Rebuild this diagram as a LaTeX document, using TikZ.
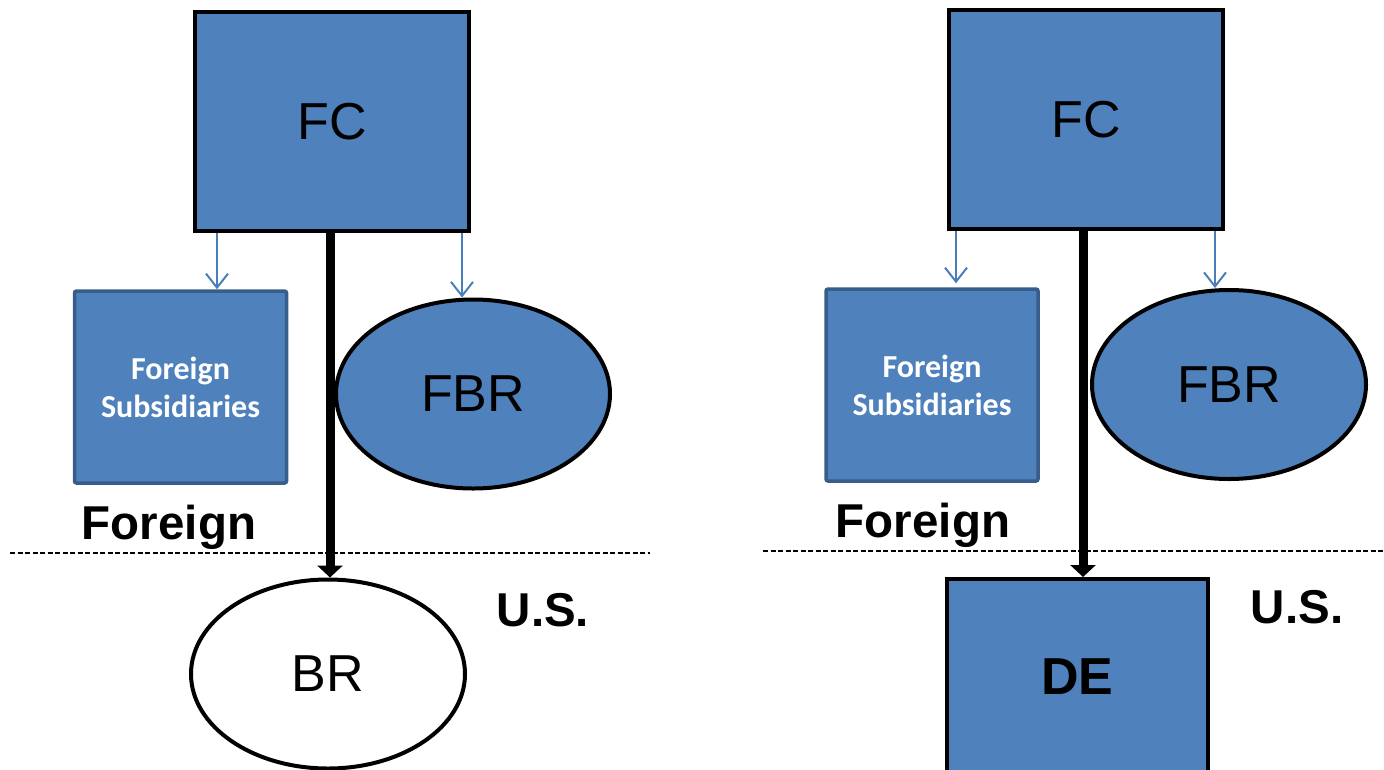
\documentclass[tikz,border=0pt]{standalone}
\usepackage{fontspec}
\setmainfont{Liberation Sans}
\newfontfamily\calibri{Carlito}
\usetikzlibrary{arrows.meta,shapes.geometric}
\definecolor{nodeblue}{RGB}{79,129,189}
\definecolor{edgeblue}{RGB}{56,93,138}
\definecolor{ownblue}{RGB}{74,126,187}

\begin{document}
\begin{tikzpicture}[x=1pt,y=-1pt,
        firm/.style={rectangle,draw=black,line width=4pt,fill=nodeblue,inner sep=0pt,font=\fontsize{52}{60}\selectfont},
        branch/.style={ellipse,draw=black,line width=4pt,fill=nodeblue,inner sep=0pt,minimum width=274pt,minimum height=189pt,font=\fontsize{52}{60}\selectfont},
        subbox/.style={rectangle,draw=edgeblue,line width=3.5pt,fill=nodeblue,rounded corners=2pt,inner sep=0pt,minimum width=212pt,minimum height=192pt,text=white,align=center,font=\calibri\bfseries\fontsize{32}{38}\selectfont},
        region/.style={inner sep=0pt,anchor=base,font=\bfseries\fontsize{47.5}{50}\selectfont},
        own/.style={draw=ownblue,line width=2pt,-{Straight Barb[length=14pt,width=22pt]}},
        control/.style={line width=9pt,-{Triangle[length=12pt,width=25pt]}},
        border/.style={line width=1.2pt,dash pattern=on 5pt off 2.5pt}
    ]
        \useasboundingbox (0,0) rectangle (1384,769);
        % branch case
        \node [firm, minimum width=274pt, minimum height=219pt] (fcL) at (332,121.5) {FC};
        \node [subbox] (fsL) at (180.5,387) {Foreign\\Subsidiaries};
        \node [branch] (fbrL) at (473,394) {FBR};
        \node [branch, fill=white] (brL) at (328,674) {BR};
        \node [region] (foreignL) at (169,539) {Foreign};
        \node [region] (usL) at (543,626.5) {U.S.};
        \draw [border] (10,553) -- (650,553);
        \draw [own] ([xshift=24pt]fcL.south west) -- ([xshift=24pt]fcL.south west |- fsL.north);
        \draw [own] ([xshift=-9pt]fcL.south east) -- ([xshift=-9pt]fcL.south east |- fbrL.north);
        \draw [control] ([xshift=-2pt]fcL.south) -- ([xshift=-2pt]fcL.south |- brL.north);
        % subsidiary case
        \node [firm, minimum width=274pt, minimum height=219pt] (fcR) at (1086,119.5) {FC};
        \node [subbox] (fsR) at (932,385) {Foreign\\Subsidiaries};
        \node [branch] (fbrR) at (1229,384.5) {FBR};
        \node [firm, minimum width=261pt, minimum height=196pt, font=\bfseries\fontsize{52}{60}\selectfont] (deR) at (1077.5,677) {DE};
        \node [region] (foreignR) at (923,537) {Foreign};
        \node [region] (usR) at (1297,623.5) {U.S.};
        \draw [border] (763,551) -- (1384,551);
        \draw [own, shorten >=4pt] ([xshift=9pt]fcR.south west) -- ([xshift=9pt]fcR.south west |- fsR.north);
        \draw [own] ([xshift=-10pt]fcR.south east) -- ([xshift=-10pt]fcR.south east |- fbrR.north);
        \draw [control] ([xshift=-3pt]fcR.south) -- ([xshift=-3pt]fcR.south |- deR.north);
\end{tikzpicture}
\end{document}
